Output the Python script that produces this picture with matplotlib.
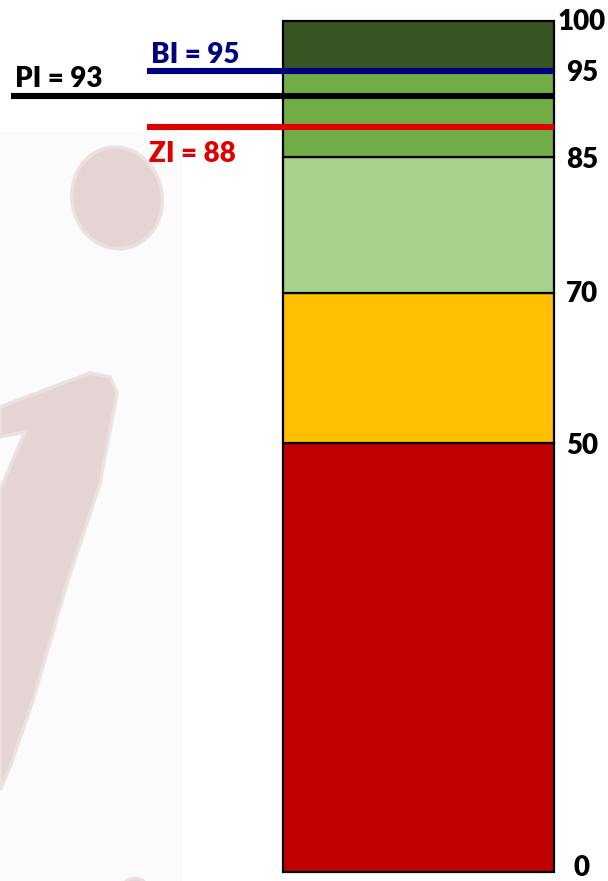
import numpy as np
import matplotlib.pyplot as plt
from matplotlib.patches import Ellipse, Polygon, Rectangle

# rating bands (lower / upper bound of each coloured block)
band_low = [0, 50, 70, 85, 95]
band_high = [50, 70, 85, 95, 100]
band_colors = ['#C00000', '#FFC000', '#A9D18E', '#70AD47', '#375623']

tick_vals = [0, 50, 70, 85, 95, 100]

# index levels drawn as horizontal lines
index_names = ['BI', 'PI', 'ZI']
index_vals = [95, 93, 88]
index_colors = ['#000080', '#000000', '#E00000']

# the bar in the source isn't drawn to a linear scale:
# calibration value -> pixel height from figure bottom
calib_vals = [0, 50, 70, 85, 88, 93, 95, 100]
calib_px = [9, 438, 588, 724, 754, 785.5, 810, 860]

W, H = 608, 881
vals_ext = [-20] + calib_vals + [120]
px_ext = [calib_px[0] - 20*8.58] + calib_px + [calib_px[-1] + 20*10]

def fwd(v):
    return np.interp(v, vals_ext, px_ext)

def inv(p):
    return np.interp(p, px_ext, vals_ext)

plt.rcParams['font.family'] = ['Lato', 'DejaVu Sans']
TXT_W = 'heavy'

fig = plt.figure(figsize=(W/100, H/100), dpi=100)

# background layer with the faint watermark
bg = fig.add_axes([0, 0, 1, 1], zorder=0)
bg.set_xlim(0, W)
bg.set_ylim(H, 0)
bg.axis('off')
bg.add_patch(Rectangle((0, 132), 183, H-132, color='#FBFBFB', lw=0))
wm = '#E5D4D4'
wm_edge = '#ECE0E0'
bg.add_patch(Ellipse((117, 198), 90, 102, angle=-10, facecolor=wm,
                     edgecolor=wm_edge, lw=2.5))
bg.add_patch(Polygon([(0, 407), (90, 373), (110, 377), (117, 393), (100, 483),
                      (67, 583), (33, 700), (10, 767), (0, 790), (0, 490),
                      (25, 432), (0, 437)], closed=True, facecolor=wm,
                     edgecolor=wm_edge, lw=2.5))
bg.add_patch(Ellipse((135, 887), 24, 18, facecolor=wm, edgecolor=wm_edge, lw=2))

ax = fig.add_axes([0, 0, 1, 1], zorder=1)
ax.patch.set_alpha(0)
ax.set_xlim(0, W)
ax.set_yscale('function', functions=(fwd, inv))
ax.set_ylim(inv(0), inv(H))
ax.axis('off')

# stacked rating bar
heights = np.subtract(band_high, band_low)
ax.bar(418.5, heights, bottom=band_low, width=271, color=band_colors,
       edgecolor='black', linewidth=1.6, zorder=2)

# index lines
line_start = [147, 11, 147]
ax.hlines(index_vals, line_start, 554, colors=index_colors, linewidth=4.4, zorder=3)

# index labels
label_x = [151, 15, 149]
label_dy = [8, 8.5, -35]
for name, v, c, x0, dy in zip(index_names, index_vals, index_colors, label_x, label_dy):
    ax.annotate(f'{name} = {v}', (x0, v), xytext=(0, dy), textcoords='offset pixels',
                ha='left', va='baseline', fontsize=20, fontweight=TXT_W, color=c)

# scale labels right of the bar
tick_dy = [4, -3, -1, -3, -2, -1]
for t, dy in zip(tick_vals, tick_dy):
    ax.annotate(str(t), (582, t), xytext=(0, dy), textcoords='offset pixels',
                ha='center', va='center', fontsize=20, fontweight=TXT_W)

fig.savefig('out.png', dpi=100)
